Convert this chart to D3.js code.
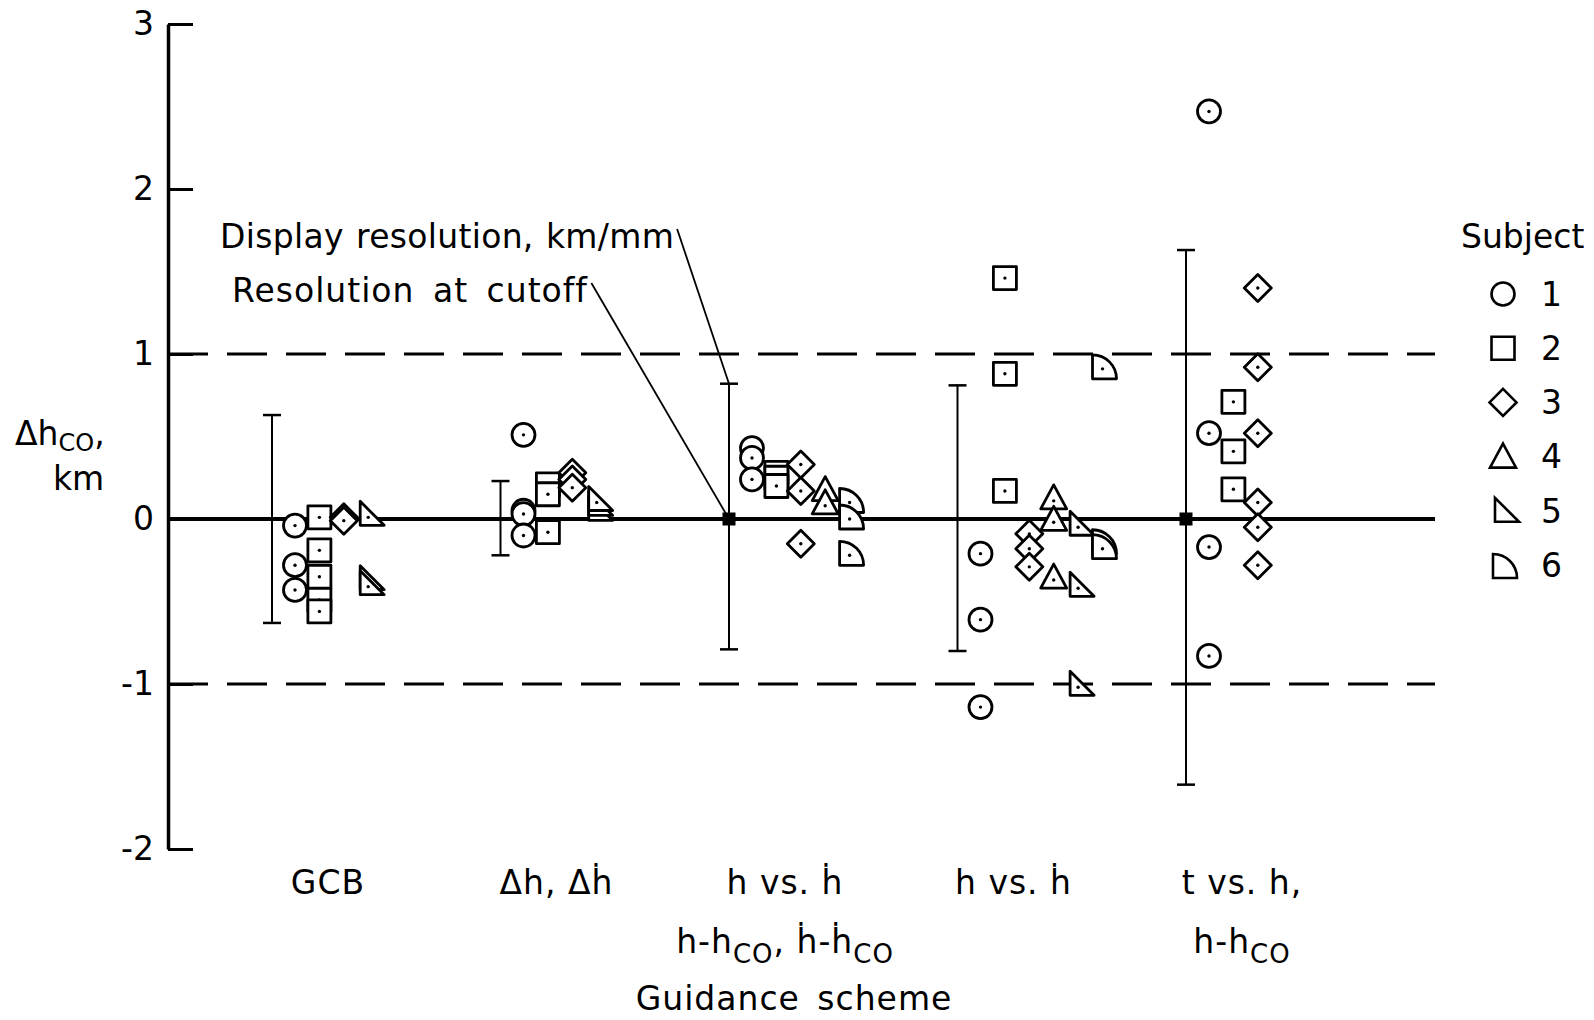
<!DOCTYPE html>
<html>
<head>
<meta charset="utf-8">
<script src="https://cdn.jsdelivr.net/npm/d3@7"></script>
<style>
  body { margin: 0; background: #fff; }
  svg { display: block; font-family: "DejaVu Sans", sans-serif; }
</style>
</head>
<body>
<svg id="chart" width="1594" height="1020"></svg>
<script>
// ---- data ----------------------------------------------------------------
const schemes = ["GCB", "dH", "hhco", "hhdot", "thco"];
const subjects = [1, 2, 3, 4, 5, 6];
const tickValues = [-2, -1, 0, 1, 2, 3];
const limitValues = [1, -1];

// display resolution, km/mm (range shown as an error bar for each scheme)
const resolutionUpper = [0.63, 0.23, 0.82, 0.81, 1.63];
const resolutionLower = [-0.63, -0.22, -0.79, -0.80, -1.61];

// resolution at cutoff (only for two schemes)
const cutoffSchemes = ["hhco", "thco"];
const cutoffValues = [0, 0];

// Δh_CO, km — one list of runs per subject, per guidance scheme
const gcbRuns   = { 1: [-0.04, -0.28, -0.43], 2: [0.01, -0.19, -0.35, -0.49, -0.56], 3: [0.01, -0.01], 5: [0.01, -0.38, -0.41] };
const dhRuns    = { 1: [0.51, 0.05, 0.03, -0.10], 2: [0.21, 0.15, -0.08], 3: [0.28, 0.24, 0.19], 5: [0.04, 0.07, 0.10] };
const hhcoRuns  = { 1: [0.43, 0.37, 0.24], 2: [0.28, 0.25, 0.20], 3: [0.33, 0.17, -0.15], 4: [0.16, 0.08], 6: [0.10, 0.00, -0.22] };
const hhdotRuns = { 1: [-0.21, -0.61, -1.14], 2: [1.46, 0.88, 0.17], 3: [-0.09, -0.18, -0.29], 4: [0.11, -0.02, -0.37], 5: [-0.05, -0.42, -1.02], 6: [0.91, -0.15, -0.18] };
const thcoRuns  = { 1: [2.47, 0.52, -0.17, -0.83], 2: [0.71, 0.41, 0.18], 3: [1.40, 0.92, 0.52, 0.10, -0.05, -0.28] };
const runsByScheme = [gcbRuns, dhRuns, hhcoRuns, hhdotRuns, thcoRuns];

// category labels (rich text: sub = subscript)
const schemeLabels = [
  [[{ t: "GCB" }]],
  [[{ t: "Δh, Δḣ" }]],
  [[{ t: "h vs. ḣ" }], [{ t: "h-h" }, { t: "CO", sub: true }, { t: ", ḣ-ḣ" }, { t: "CO", sub: true }]],
  [[{ t: "h vs. ḣ" }]],
  [[{ t: "t vs. h," }], [{ t: "h-h" }, { t: "CO", sub: true }]]
];

// ---- layout ----------------------------------------------------------------
const W = 1594, H = 1020;
const axisX = 168, lineEnd = 1435;
const fs = 33, subFs = 26;
const svg = d3.select("#chart");

const y = d3.scaleLinear().domain([-2, 3]).range([849, 24]);
const xScheme = d3.scalePoint().domain(schemes).range([272, 1186]);
const colStep = 24.4, colStart = 23;

// flatten the runs into points; each scheme packs its subjects into columns
const points = [];
schemes.forEach((s, i) => {
  const runs = runsByScheme[i];
  const present = subjects.filter(k => runs[k]);
  present.forEach((k, col) => {
    runs[k].forEach(v => points.push({ scheme: s, subject: k, value: v, col }));
  });
});
const xPoint = d => xScheme(d.scheme) + colStart + colStep * d.col;

// symbol outlines, origin at the centre dot
const shapes = {
  1: "M11.5,0A11.5,11.5 0 1 1 -11.5,0A11.5,11.5 0 1 1 11.5,0Z",
  2: "M-11.5,-11.5H11.5V11.5H-11.5Z",
  3: "M0,-13.5L13.5,0L0,13.5L-13.5,0Z",
  4: "M0,-16L13,8H-13Z",
  5: "M-8,-16V8H16Z",
  6: "M-10,10V-14A24,24 0 0 1 14,10Z"
};

// ---- axis ----------------------------------------------------------------
const axis = d3.axisLeft(y).tickValues(tickValues).tickSize(-25).tickSizeOuter(0)
  .tickPadding(14).tickFormat(d => String(d));
const gAxis = svg.append("g").attr("transform", `translate(${axisX},0)`).call(axis);
gAxis.select(".domain").attr("stroke", "#000").attr("stroke-width", 3.5);
gAxis.selectAll(".tick line").attr("stroke", "#000").attr("stroke-width", 3);
gAxis.selectAll(".tick text").attr("fill", "#000").attr("font-size", fs)
  .attr("font-family", "DejaVu Sans, sans-serif");

// reference lines
svg.append("line").attr("x1", axisX).attr("x2", lineEnd).attr("y1", y(0)).attr("y2", y(0))
  .attr("stroke", "#000").attr("stroke-width", 4);
svg.selectAll("line.limit").data(limitValues).join("line").attr("class", "limit")
  .attr("x1", axisX).attr("x2", lineEnd).attr("y1", d => y(d)).attr("y2", d => y(d))
  .attr("stroke", "#000").attr("stroke-width", 3).attr("stroke-dasharray", "40,19");

// display-resolution bars
const bars = svg.append("g").selectAll("g").data(schemes).join("g");
bars.append("line")
  .attr("x1", d => xScheme(d)).attr("x2", d => xScheme(d))
  .attr("y1", (d, i) => y(resolutionUpper[i])).attr("y2", (d, i) => y(resolutionLower[i]))
  .attr("stroke", "#000").attr("stroke-width", 2);
[resolutionUpper, resolutionLower].forEach(arr => {
  bars.append("line")
    .attr("x1", d => xScheme(d) - 9).attr("x2", d => xScheme(d) + 9)
    .attr("y1", (d, i) => y(arr[i])).attr("y2", (d, i) => y(arr[i]))
    .attr("stroke", "#000").attr("stroke-width", 2.5);
});

// resolution at cutoff markers
svg.selectAll("rect.cutoff").data(cutoffSchemes).join("rect").attr("class", "cutoff")
  .attr("x", d => xScheme(d) - 6.5).attr("y", (d, i) => y(cutoffValues[i]) - 6.5)
  .attr("width", 13).attr("height", 13).attr("fill", "#000");

// data symbols
const pts = svg.append("g").selectAll("g").data(points).join("g")
  .attr("transform", d => `translate(${xPoint(d)},${y(d.value)})`);
pts.append("path").attr("d", d => shapes[d.subject])
  .attr("fill", "#fff").attr("stroke", "#000").attr("stroke-width", 2.8)
  .attr("stroke-linejoin", "round");
pts.append("circle").attr("r", 1.7).attr("fill", "#000");

// ---- text ----------------------------------------------------------------
function rich(textSel, segs, drop, size) {
  let lowered = false;
  segs.forEach(s => {
    const t = textSel.append("tspan").text(s.t);
    if (s.sub) { t.attr("font-size", size).attr("dy", lowered ? 0 : drop); lowered = true; }
    else if (lowered) { t.attr("dy", -drop); lowered = false; }
  });
}

// category labels
schemes.forEach((s, i) => {
  schemeLabels[i].forEach((line, j) => {
    const t = svg.append("text").attr("x", xScheme(s) + 56).attr("y", 894 + j * 59)
      .attr("text-anchor", "middle").attr("font-size", fs).attr("letter-spacing", 1);
    rich(t, line, 10, subFs);
  });
});
svg.append("text").attr("x", (axisX + 1420) / 2).attr("y", 1010).attr("text-anchor", "middle")
  .attr("font-size", fs).attr("letter-spacing", 1).attr("word-spacing", 6).text("Guidance scheme");

// y-axis title: quantity on the first line, unit below
const yt = svg.append("text").attr("x", 15).attr("y", 445).attr("font-size", fs);
rich(yt, [{ t: "Δh" }, { t: "CO", sub: true }, { t: "," }], 6, 24);
svg.append("text").attr("x", 53).attr("y", 490).attr("font-size", fs).text("km");

// annotations with leader lines
const t1 = svg.append("text").attr("x", 220).attr("y", 248).attr("font-size", fs)
  .attr("letter-spacing", 0.3).attr("word-spacing", 1.5).text("Display resolution, km/mm");
const t2 = svg.append("text").attr("x", 232).attr("y", 302).attr("font-size", fs)
  .attr("letter-spacing", 1).attr("word-spacing", 7).text("Resolution at cutoff");
const b1 = t1.node().getBBox(), b2 = t2.node().getBBox();
svg.append("line").attr("x1", b1.x + b1.width + 3).attr("y1", b1.y + 12)
  .attr("x2", xScheme("hhco")).attr("y2", y(resolutionUpper[2]))
  .attr("stroke", "#000").attr("stroke-width", 1.8);
svg.append("line").attr("x1", b2.x + b2.width + 3).attr("y1", b2.y + 12)
  .attr("x2", xScheme("hhco")).attr("y2", y(cutoffValues[0]))
  .attr("stroke", "#000").attr("stroke-width", 1.8);

// legend
const legX = 1461;
svg.append("text").attr("x", legX).attr("y", 248).attr("font-size", fs).text("Subject");
const leg = svg.append("g").selectAll("g").data(subjects).join("g")
  .attr("transform", (d, i) => `translate(${legX + 42},${294 + i * 54.2})`);
leg.append("path").attr("d", d => shapes[d]).attr("fill", "none").attr("stroke", "#000")
  .attr("stroke-width", 2.6).attr("transform", d => d >= 4 ? "translate(0,3)" : null);
leg.append("text").attr("x", 38).attr("dy", "0.36em").attr("font-size", fs).text(d => d);
</script>
</body>
</html>
